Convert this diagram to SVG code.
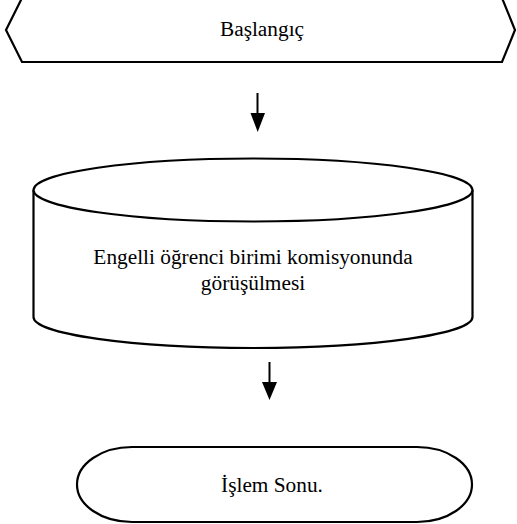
<svg xmlns="http://www.w3.org/2000/svg" width="517" height="524" viewBox="0 0 517 524">
<style>
.s{fill:#fff;stroke:#000;stroke-width:2.2;stroke-linejoin:miter}
.t{font-size:21.33px;fill:#000;text-anchor:middle}
.c{stroke:#000;stroke-width:2;fill:none}
</style>
<g id="start">
<polygon class="s" points="22,-2 502,-2 515,30 502,62 22,62 6,30"/>
<text class="t" font-family="Liberation Serif, Times New Roman, serif" x="262" y="36">Başlangıç</text>
</g>
<g id="process">
<path class="s" d="M33.5,190 L33.5,317 A219.5,31 0 0 0 472.5,317 L472.5,190"/>
<ellipse class="s" cx="253" cy="190" rx="219.5" ry="31.5"/>
<text class="t" font-family="Liberation Serif, Times New Roman, serif" x="253" y="264">Engelli öğrenci birimi komisyonunda</text>
<text class="t" font-family="Liberation Serif, Times New Roman, serif" x="253" y="290">görüşülmesi</text>
</g>
<g id="end">
<rect class="s" x="77" y="447" width="395" height="75" rx="55" ry="37.5"/>
<text class="t" font-family="Liberation Serif, Times New Roman, serif" x="272" y="492">İşlem Sonu.</text>
</g>
<g id="connectors">
<path class="c" d="M257.5,93 L257.5,114"/>
<polygon points="250.5,113 265,113 257.7,132" fill="#000"/>
<path class="c" d="M269.5,362 L269.5,383"/>
<polygon points="262,382 277,382 269.5,400" fill="#000"/>
</g>
</svg>
